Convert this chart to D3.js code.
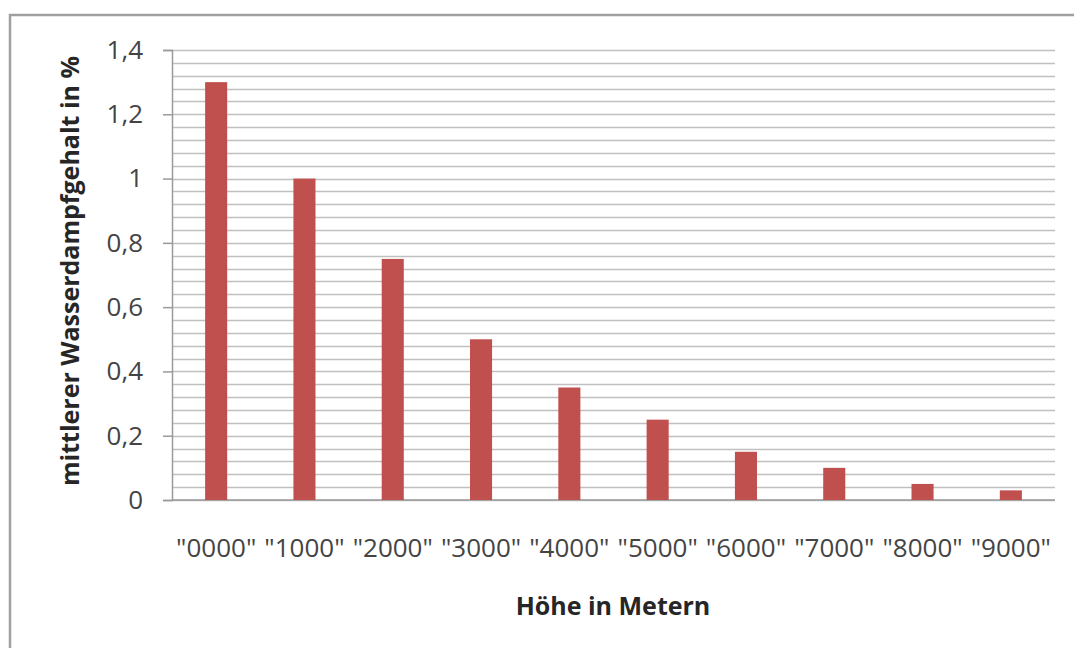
<!DOCTYPE html>
<html><head><meta charset="utf-8">
<script src="https://cdn.jsdelivr.net/npm/d3@7"></script>
<style>
html,body{margin:0;padding:0;background:#fff;}
svg{display:block;}
text{font-family:"Open Sans",sans-serif;}
</style></head>
<body>
<script>
const categories = ['"0000"','"1000"','"2000"','"3000"','"4000"','"5000"','"6000"','"7000"','"8000"','"9000"'];
const values = [1.3, 1.0, 0.75, 0.5, 0.35, 0.25, 0.15, 0.1, 0.05, 0.03];
const majorTicks = [0, 0.2, 0.4, 0.6, 0.8, 1.0, 1.2, 1.4];
const minorTicks = d3.range(0, 36).map(i => +(i * 0.04).toFixed(2));
const yTitle = "mittlerer Wasserdampfgehalt in %";
const xTitle = "Höhe in Metern";

const W = 1074, H = 648;
const svg = d3.select("body").append("svg").attr("width", W).attr("height", H);

// outer frame
svg.append("rect").attr("x", 10).attr("y", 15).attr("width", 1100).attr("height", 700)
  .attr("fill", "#fff").attr("stroke", "#a0a0a0").attr("stroke-width", 2.5);

const pL = 172, pR = 1055, pT = 50, pB = 500;
const x = d3.scaleBand().domain(categories).range([pL, pR]).paddingInner(0.75).paddingOuter(0.375);
const y = d3.scaleLinear().domain([0, 1.4]).range([pB, pT]);

// minor gridlines
svg.append("g").selectAll("line").data(minorTicks).join("line")
  .attr("x1", pL).attr("x2", pR)
  .attr("y1", d => Math.round(y(d)) + 0.5).attr("y2", d => Math.round(y(d)) + 0.5)
  .attr("stroke", "#c0c0c0").attr("stroke-width", 1.6);

// y axis
const yAxis = d3.axisLeft(y).tickValues(majorTicks).tickSize(9).tickPadding(20)
  .tickFormat(d => d3.format(".1~f")(d).replace(".", ","));
const gy = svg.append("g").attr("transform", `translate(${pL},0)`).call(yAxis);
gy.select(".domain").attr("stroke", "#9a9a9a").attr("stroke-width", 1.5);
gy.selectAll(".tick line").attr("stroke", "#9a9a9a").attr("stroke-width", 1.5);
gy.selectAll(".tick text").attr("fill", "#444").style("font-size", "26px")
  .style("font-family", "'Open Sans',sans-serif");

// baseline
svg.append("line").attr("x1", pL).attr("x2", pR).attr("y1", y(0)).attr("y2", y(0))
  .attr("stroke", "#9a9a9a").attr("stroke-width", 1.5);

// bars
svg.append("g").selectAll("rect").data(values).join("rect")
  .attr("x", (d, i) => x(categories[i])).attr("width", x.bandwidth())
  .attr("y", d => y(d)).attr("height", d => y(0) - y(d))
  .attr("fill", "#c0504d");

// x axis labels
const xAxis = d3.axisBottom(x).tickSize(0);
const gx = svg.append("g").attr("transform", `translate(0,${pB})`).call(xAxis);
gx.select(".domain").remove();
gx.selectAll(".tick text").attr("y", 57).attr("dy", 0).attr("fill", "#444")
  .style("font-size", "26px").style("font-family", "'Open Sans',sans-serif");

// titles
svg.append("text").attr("x", 613).attr("y", 615)
  .attr("text-anchor", "middle").attr("font-weight", "bold").attr("fill", "#262626")
  .style("font-size", "25px").text(xTitle);
svg.append("text").attr("transform", `translate(79,${(52 + 490) / 2}) rotate(-90)`)
  .attr("text-anchor", "middle").attr("font-weight", "bold").attr("fill", "#262626")
  .style("font-size", "25px").text(yTitle);
</script>
</body></html>
